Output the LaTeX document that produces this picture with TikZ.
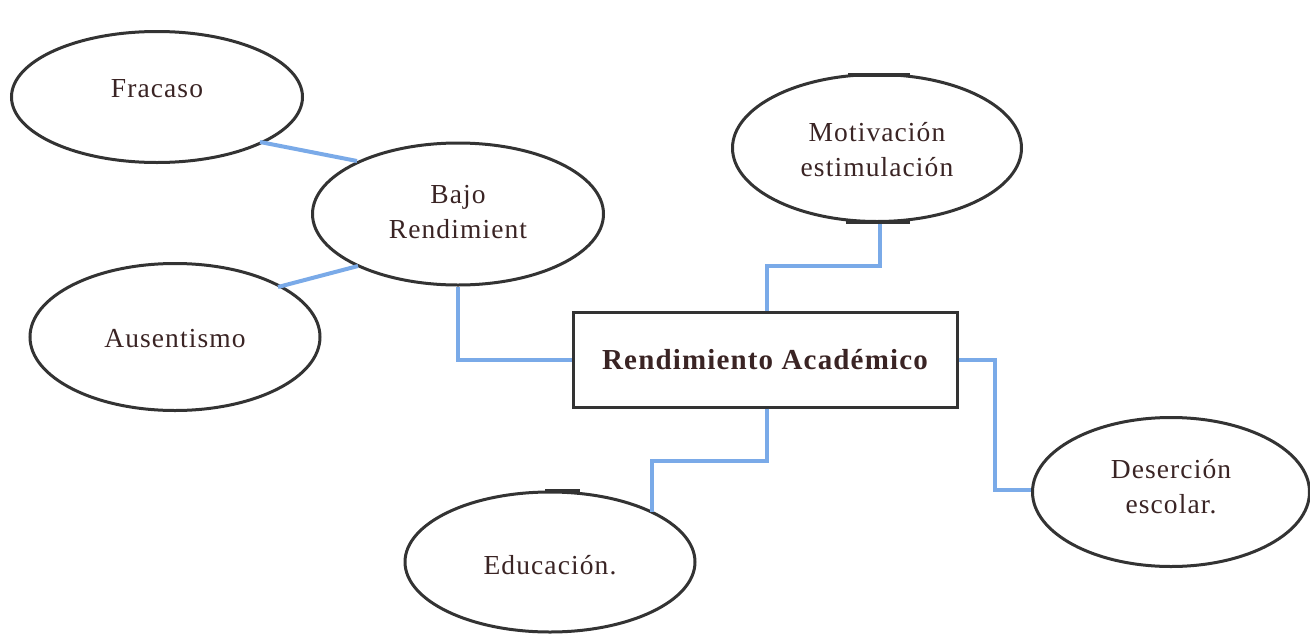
\documentclass[tikz,border=0pt]{standalone}
\usepackage{fontspec}
\setmainfont{Liberation Serif}[LetterSpace=4]
\usetikzlibrary{shapes.geometric}
\definecolor{txt}{HTML}{3A2424}
\definecolor{edge}{HTML}{333333}
\definecolor{link}{HTML}{7AAAE8}
\begin{document}
\begin{tikzpicture}[x=1pt,y=-1pt,
  oval/.style={draw=edge,line width=3pt,ellipse,inner sep=0pt},
  lbl/.style={text=txt,align=center,inner sep=0pt,font=\fontsize{27.5}{35}\selectfont},
  mainbox/.style={draw=edge,line width=3pt,rectangle,inner sep=0pt,text=txt,font=\fontsize{29}{32}\selectfont\bfseries},
  conn/.style={draw=link,line width=4pt},
  bar/.style={draw=edge,line width=4pt}]
\useasboundingbox (0,0) rectangle (1310,635);
\node[oval,minimum width=291pt,minimum height=131pt] (fra) at (157,97) {};
\node[oval,minimum width=291pt,minimum height=142pt] (bajo) at (458,214) {};
\node[oval,minimum width=290pt,minimum height=147pt] (aus) at (175,337) {};
\node[oval,minimum width=289pt,minimum height=147pt] (mot) at (877,148) {};
\node[mainbox,minimum width=384pt,minimum height=95pt] (ra) at (765,359.5) {Rendimiento Académico};
\node[oval,minimum width=277pt,minimum height=149pt] (des) at (1171,492) {};
\node[oval,minimum width=290pt,minimum height=140pt] (edu) at (550,562) {};
% labels
\node[lbl] (tfra) at (157,89) {Fracaso};
\node[lbl] (tbajo) at (458,212) {Bajo\\Rendimient};
\node[lbl] (taus) at (175,339) {Ausentismo};
\node[lbl] (tmot) at (877,150) {Motivación\\estimulación};
\node[lbl] (tdes) at (1171,487) {Deserción\\escolar.};
\node[lbl] (tedu) at (550,565) {Educación.};
% connectors
\coordinate (f1) at (260,142);
\coordinate (b1) at (357,161);
\coordinate (a1) at (278,287);
\coordinate (b2) at (358,266);
\draw[conn] (f1) -- (b1);
\draw[conn] (a1) -- (b2);
\draw[conn] (bajo.south) |- (ra.west);
\draw[conn] (ra.north -| 767,0) -- (767,266) -| (mot.south -| 880,0);
\coordinate (e1) at (652,512);
\draw[conn] (ra.south -| 767,0) -- (767,461) -| (e1);
\draw[conn] (ra.east) -| (995,490) -- (des.west |- 0,490);
% small bars
\draw[bar] (848,75) -- (910,75);
\draw[bar] (846,222) -- (910,222);
\draw[bar] (545,491) -- (580,491);
\end{tikzpicture}
\end{document}
